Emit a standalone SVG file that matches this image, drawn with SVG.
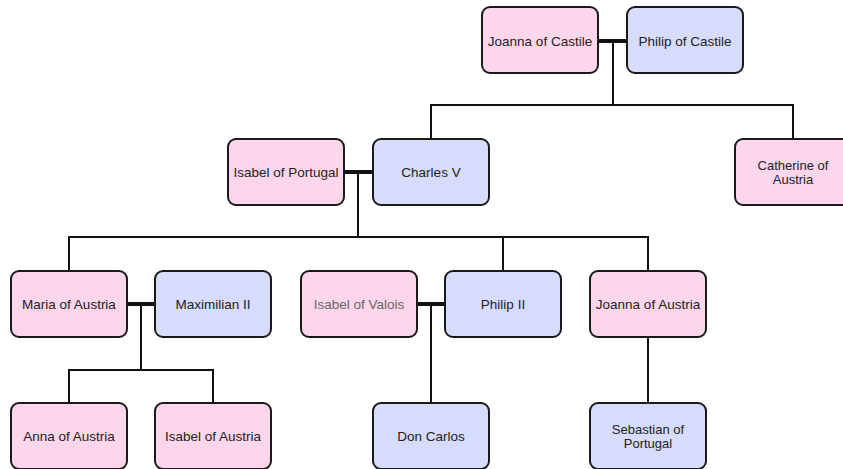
<svg xmlns="http://www.w3.org/2000/svg" width="843" height="469" viewBox="0 0 843 469">
<style>
.f rect{fill:#fdd6ec;stroke:#1a1a1a;stroke-width:2}
.m rect{fill:#d7dcfc;stroke:#1a1a1a;stroke-width:2}
text{font-family:"Liberation Sans",Arial,sans-serif;font-size:13.5px;fill:#222;text-anchor:middle}
text.two{font-size:13px}
.dim{fill:#666}
#connectors .mar{stroke:#111;stroke-width:4;fill:none}
#connectors .ln{stroke:#111;stroke-width:2;fill:none}
</style>
<rect width="843" height="469" fill="#fff"/>
<g id="connectors">
<line class="mar" x1="598" y1="41" x2="627" y2="41"/>
<polyline class="ln" points="613,41 613,105"/>
<polyline class="ln" points="431,139 431,105 793,105 793,139"/>
<line class="mar" x1="344" y1="172" x2="373" y2="172"/>
<polyline class="ln" points="358,172 358,237"/>
<polyline class="ln" points="69,271 69,237 648,237 648,271"/>
<line class="ln" x1="503" y1="237" x2="503" y2="271"/>
<line class="mar" x1="127" y1="304" x2="155" y2="304"/>
<polyline class="ln" points="141,304 141,370"/>
<polyline class="ln" points="69,403 69,370 213,370 213,403"/>
<line class="mar" x1="416" y1="304" x2="445" y2="304"/>
<line class="ln" x1="431" y1="304" x2="431" y2="403"/>
<line class="ln" x1="648" y1="337" x2="648" y2="403"/>
</g>
<g id="joanna-castile" class="f"><rect x="482" y="7" width="116" height="66" rx="8"/><text x="540" y="45.5">Joanna of Castile</text></g>
<g id="philip-castile" class="m"><rect x="627" y="7" width="116" height="66" rx="8"/><text x="685" y="45.5">Philip of Castile</text></g>
<g id="isabel-portugal" class="f"><rect x="228" y="139" width="116" height="66" rx="8"/><text x="286" y="176.5">Isabel of Portugal</text></g>
<g id="charles-v" class="m"><rect x="373" y="139" width="116" height="66" rx="8"/><text x="431" y="176.5">Charles V</text></g>
<g id="catherine" class="f"><rect x="735" y="139" width="116" height="66" rx="8"/><text class="two" x="793" y="170">Catherine of</text><text class="two" x="793" y="183.5">Austria</text></g>
<g id="maria" class="f"><rect x="11" y="271" width="116" height="66" rx="8"/><text x="69" y="308.5">Maria of Austria</text></g>
<g id="maximilian" class="m"><rect x="155" y="271" width="116" height="66" rx="8"/><text x="213" y="308.5">Maximilian II</text></g>
<g id="isabel-valois" class="f"><rect x="301" y="271" width="116" height="66" rx="8"/><text class="dim" x="359" y="308.5">Isabel of Valois</text></g>
<g id="philip-ii" class="m"><rect x="445" y="271" width="116" height="66" rx="8"/><text x="503" y="308.5">Philip II</text></g>
<g id="joanna-austria" class="f"><rect x="590" y="271" width="116" height="66" rx="8"/><text x="648" y="308.5">Joanna of Austria</text></g>
<g id="anna" class="f"><rect x="11" y="403" width="116" height="66" rx="8"/><text x="69" y="440.5">Anna of Austria</text></g>
<g id="isabel-austria" class="f"><rect x="155" y="403" width="116" height="66" rx="8"/><text x="213" y="440.5">Isabel of Austria</text></g>
<g id="don-carlos" class="m"><rect x="373" y="403" width="116" height="66" rx="8"/><text x="431" y="440.5">Don Carlos</text></g>
<g id="sebastian" class="m"><rect x="590" y="403" width="116" height="66" rx="8"/><text class="two" x="648" y="434">Sebastian of</text><text class="two" x="648" y="447.5">Portugal</text></g>
</svg>
